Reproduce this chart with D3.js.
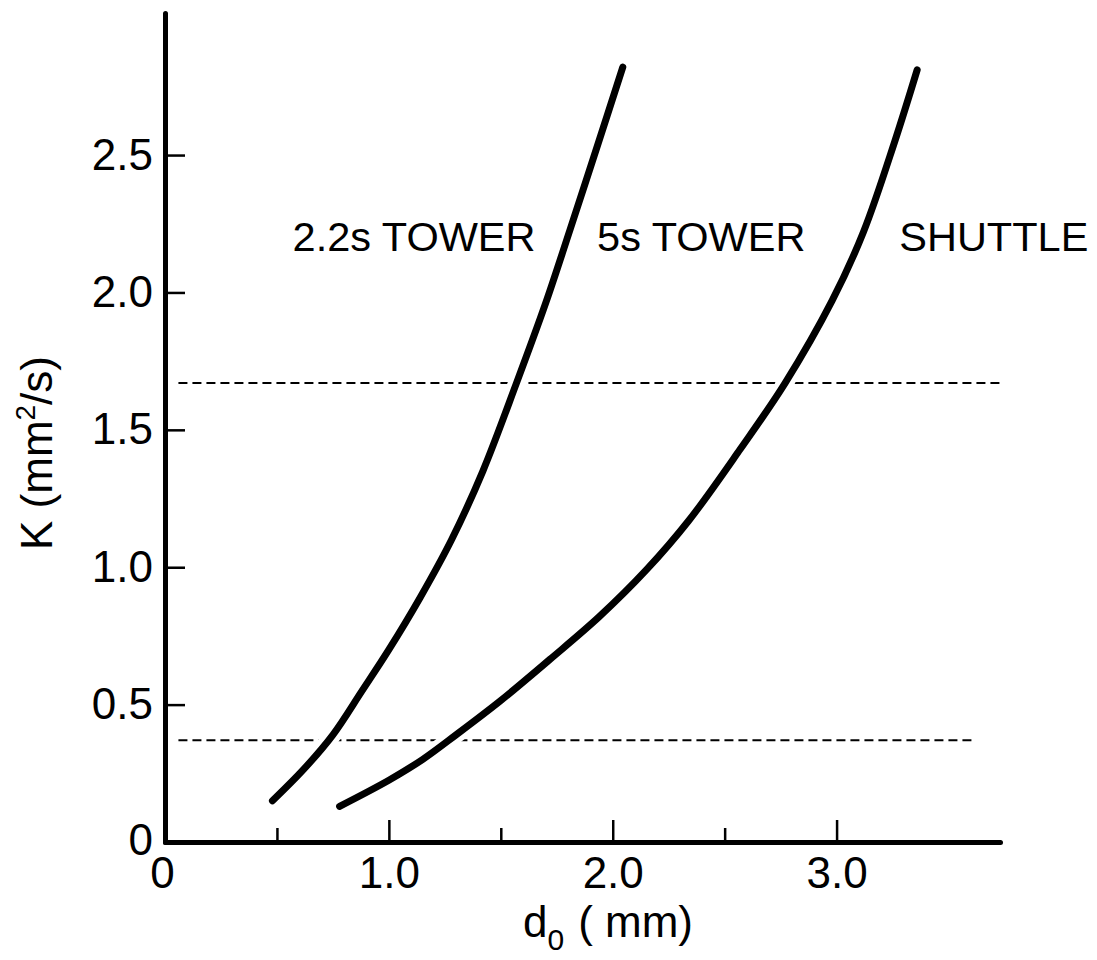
<!DOCTYPE html>
<html>
<head>
<meta charset="utf-8">
<script src="https://cdn.jsdelivr.net/npm/d3@7"></script>
<style>
  body { margin: 0; background: #fff; }
  text { font-family: "Liberation Sans", Arial, sans-serif; fill: #000; }
</style>
</head>
<body>
<div id="chart"></div>
<script>
// Curve data: d0 (mm) vs K (mm^2/s)
const towerShortD = [0.48, 0.62, 0.75, 0.88, 1.00, 1.14, 1.28, 1.42, 1.57, 1.70, 1.81, 1.93, 2.045];
const towerShortK = [0.15, 0.265, 0.39, 0.55, 0.70, 0.89, 1.10, 1.35, 1.67, 1.96, 2.23, 2.53, 2.82];

const towerLongD = [0.78, 1.00, 1.15, 1.30, 1.50, 1.72, 1.94, 2.15, 2.34, 2.57, 2.77, 2.98, 3.12, 3.26, 3.36];
const towerLongK = [0.13, 0.225, 0.30, 0.39, 0.515, 0.665, 0.82, 0.99, 1.17, 1.43, 1.67, 1.97, 2.22, 2.55, 2.81];

// horizontal reference levels (dashed)
const refLevels = [1.67, 0.37];
const refStart = [0.06, 0.06];
const refEnd = [3.73, 3.62];

const xMajorTicks = [0, 1, 2, 3];
const xMinorTicks = [0.5, 1.5, 2.5];
const yTicks = [0, 0.5, 1.0, 1.5, 2.0, 2.5];

const labels = ["2.2s TOWER", "5s TOWER", "SHUTTLE"];
const labelD = [0.57, 1.93, 3.28];

const width = 1097, height = 960;

const svg = d3.select("#chart").append("svg")
    .attr("width", width)
    .attr("height", height);

const x = d3.scaleLinear().domain([0, 3.73]).range([165, 1000]);
const y = d3.scaleLinear().domain([0, 3.017]).range([842, 13]);

// dashed reference lines
refLevels.forEach((k, i) => {
    svg.append("line")
        .attr("x1", x(refStart[i]))
        .attr("x2", x(refEnd[i]))
        .attr("y1", y(k))
        .attr("y2", y(k))
        .attr("stroke", "#000")
        .attr("stroke-width", 2)
        .attr("stroke-dasharray", "9,5");
});

const line = d3.line()
    .x(d => x(d[0]))
    .y(d => y(d[1]))
    .curve(d3.curveCatmullRom.alpha(0.5));

const curves = [
    d3.zip(towerShortD, towerShortK),
    d3.zip(towerLongD, towerLongK)
];

// white halo so dashes break where the curves cross
svg.selectAll(".halo")
    .data(curves)
    .enter().append("path")
    .attr("class", "halo")
    .attr("d", line)
    .attr("fill", "none")
    .attr("stroke", "#fff")
    .attr("stroke-width", 17);

svg.selectAll(".curve")
    .data(curves)
    .enter().append("path")
    .attr("class", "curve")
    .attr("d", line)
    .attr("fill", "none")
    .attr("stroke", "#000")
    .attr("stroke-width", 7)
    .attr("stroke-linecap", "round");

// x axis (major ticks pointing up, labels below)
const xAxis = svg.append("g")
    .attr("transform", `translate(0,${y(0)})`)
    .call(d3.axisBottom(x)
        .tickValues(xMajorTicks)
        .tickSize(-22)
        .tickSizeOuter(0)
        .tickPadding(15)
        .tickFormat(d => d === 0 ? "0" : d.toFixed(1)));

xAxis.append("g")
    .call(d3.axisBottom(x)
        .tickValues(xMinorTicks)
        .tickSize(-14)
        .tickSizeOuter(0)
        .tickFormat(""))
    .select(".domain").remove();

// y axis (ticks pointing right)
const yAxis = svg.append("g")
    .attr("transform", `translate(${x(0)},0)`)
    .call(d3.axisLeft(y)
        .tickValues(yTicks)
        .tickSize(-20)
        .tickSizeOuter(0)
        .tickPadding(12)
        .tickFormat(d => d === 0 ? "0" : d.toFixed(1)));

[xAxis, yAxis].forEach(ax => {
    ax.selectAll(".domain")
        .attr("stroke", "#000")
        .attr("stroke-width", 5)
        .attr("stroke-linecap", "round");
    ax.selectAll(".tick line")
        .attr("stroke", "#000")
        .attr("stroke-width", 2.5);
    ax.selectAll(".tick text")
        .style("font-size", "44px")
        .attr("fill", "#000");
    ax.selectAll(".tick").filter(d => d === 0).select("line").remove();
});

// nudge the 0 labels to sit like the original
yAxis.selectAll(".tick").filter(d => d === 0).select("text").attr("dy", "0.28em");
xAxis.selectAll(".tick").filter(d => d === 0).select("text").attr("x", -3);

// axis titles
const xTitle = svg.append("text")
    .attr("x", 523)
    .attr("y", 937)
    .style("font-size", "44px");
xTitle.append("tspan").text("d");
xTitle.append("tspan")
    .attr("dy", 13)
    .style("font-size", "30px")
    .text("0");
xTitle.append("tspan")
    .attr("dy", -13)
    .attr("dx", 14)
    .text("( mm)");

const yTitle = svg.append("text")
    .attr("transform", "translate(52,453) rotate(-90)")
    .attr("text-anchor", "middle")
    .style("font-size", "44px");
yTitle.append("tspan").text("K (mm");
yTitle.append("tspan")
    .attr("dy", -17)
    .style("font-size", "28px")
    .text("2");
yTitle.append("tspan")
    .attr("dy", 17)
    .text("/s)");

// curve labels
svg.selectAll(".curve-label")
    .data(labels)
    .enter().append("text")
    .attr("class", "curve-label")
    .attr("x", (d, i) => x(labelD[i]))
    .attr("y", y(2.15))
    .style("font-size", "41.5px")
    .text(d => d);
</script>
</body>
</html>
